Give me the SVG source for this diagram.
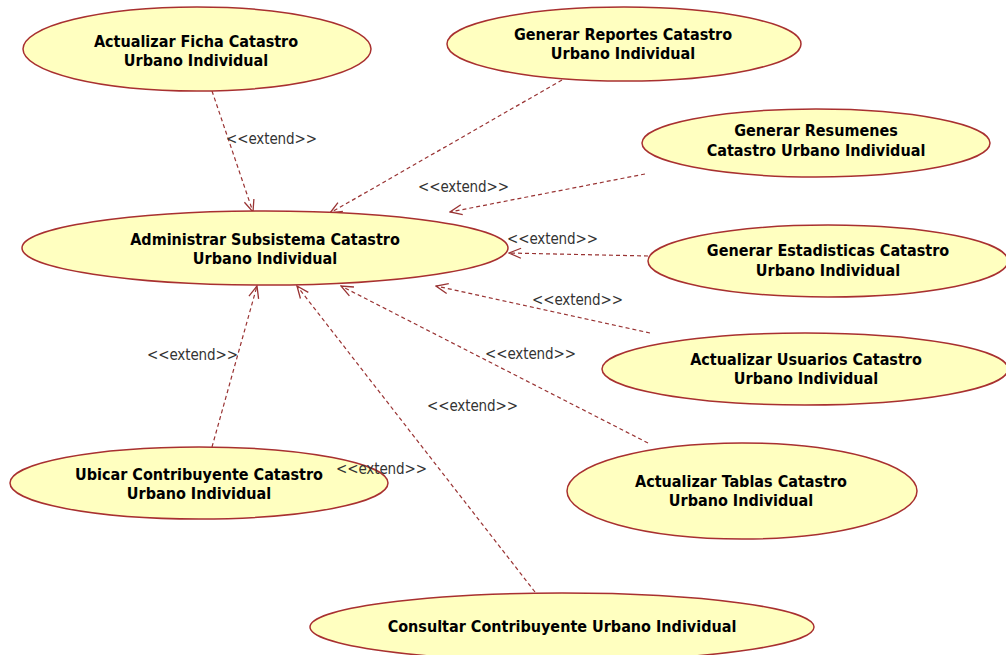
<svg xmlns="http://www.w3.org/2000/svg" width="1006" height="655" viewBox="0 0 1006 655">
  <style>
    .uc { fill: #ffffc0; stroke: #a83030; stroke-width: 1.5; }
    .uct { font-family: "DejaVu Sans Condensed", "DejaVu Sans", sans-serif; font-stretch: condensed; font-weight: bold; font-size: 16px; fill: #000; text-anchor: middle; }
    .dep { fill: none; stroke: #993333; stroke-width: 1.2; stroke-dasharray: 4 3; marker-end: url(#open); }
    .lbl { font-family: "DejaVu Sans Condensed", "DejaVu Sans", sans-serif; font-stretch: condensed; font-size: 15px; fill: #333; }
  </style>
  <defs>
    <marker id="open" viewBox="0 0 14 12" refX="13" refY="6" markerWidth="14" markerHeight="12" markerUnits="userSpaceOnUse" orient="auto">
      <path d="M1,1 L13,6 L1,11" fill="none" stroke="#993333" stroke-width="1.3"/>
    </marker>
  </defs>
  <rect width="1006" height="655" fill="#ffffff"/>

  <g id="connectors">
    <line class="dep" x1="212" y1="91" x2="253" y2="212"/>
    <line class="dep" x1="562" y1="80" x2="330" y2="213"/>
    <line class="dep" x1="645" y1="174" x2="450" y2="212"/>
    <line class="dep" x1="648" y1="256" x2="509" y2="253"/>
    <line class="dep" x1="650" y1="333" x2="436" y2="286"/>
    <line class="dep" x1="648" y1="443" x2="341" y2="286"/>
    <line class="dep" x1="212" y1="447" x2="257" y2="286"/>
    <line class="dep" x1="535" y1="592" x2="297" y2="286"/>
    <text class="lbl" x="226" y="144" textLength="91">&lt;&lt;extend&gt;&gt;</text>
    <text class="lbl" x="418" y="192" textLength="91">&lt;&lt;extend&gt;&gt;</text>
    <text class="lbl" x="507" y="244" textLength="91">&lt;&lt;extend&gt;&gt;</text>
    <text class="lbl" x="532" y="305" textLength="91">&lt;&lt;extend&gt;&gt;</text>
    <text class="lbl" x="485" y="359" textLength="91">&lt;&lt;extend&gt;&gt;</text>
    <text class="lbl" x="427" y="411" textLength="91">&lt;&lt;extend&gt;&gt;</text>
    <text class="lbl" x="147" y="360" textLength="91">&lt;&lt;extend&gt;&gt;</text>
  </g>

  <g id="uc-ficha">
    <ellipse class="uc" cx="197" cy="49" rx="174" ry="42"/>
    <text class="uct" x="196" y="47">Actualizar Ficha Catastro</text>
    <text class="uct" x="196" y="66">Urbano Individual</text>
  </g>
  <g id="uc-reportes">
    <ellipse class="uc" cx="624" cy="44" rx="177" ry="37"/>
    <text class="uct" x="623" y="40">Generar Reportes Catastro</text>
    <text class="uct" x="623" y="59">Urbano Individual</text>
  </g>
  <g id="uc-resumenes">
    <ellipse class="uc" cx="816" cy="143" rx="174" ry="34"/>
    <text class="uct" x="816" y="136">Generar Resumenes</text>
    <text class="uct" x="816" y="156">Catastro Urbano Individual</text>
  </g>
  <g id="uc-administrar">
    <ellipse class="uc" cx="265" cy="248" rx="243" ry="37"/>
    <text class="uct" x="265" y="245">Administrar Subsistema Catastro</text>
    <text class="uct" x="265" y="264">Urbano Individual</text>
  </g>
  <g id="uc-estadisticas">
    <ellipse class="uc" cx="828" cy="261" rx="180" ry="36"/>
    <text class="uct" x="828" y="256">Generar Estadisticas Catastro</text>
    <text class="uct" x="828" y="276">Urbano Individual</text>
  </g>
  <g id="uc-usuarios">
    <ellipse class="uc" cx="805" cy="369" rx="203" ry="36"/>
    <text class="uct" x="806" y="365">Actualizar Usuarios Catastro</text>
    <text class="uct" x="806" y="384">Urbano Individual</text>
  </g>
  <g id="uc-tablas">
    <ellipse class="uc" cx="742" cy="491" rx="175" ry="48"/>
    <text class="uct" x="741" y="487">Actualizar Tablas Catastro</text>
    <text class="uct" x="741" y="506">Urbano Individual</text>
  </g>
  <g id="uc-ubicar">
    <ellipse class="uc" cx="199" cy="483" rx="189" ry="36"/>
    <text class="uct" x="199" y="480">Ubicar Contribuyente Catastro</text>
    <text class="uct" x="199" y="499">Urbano Individual</text>
  </g>
  <g id="uc-consultar">
    <ellipse class="uc" cx="562" cy="627" rx="252" ry="34"/>
    <text class="uct" x="562" y="632">Consultar Contribuyente Urbano Individual</text>
  </g>

  <!-- this label sits on top of the Ubicar ellipse -->
  <text class="lbl" x="336" y="474" textLength="91">&lt;&lt;extend&gt;&gt;</text>
</svg>
